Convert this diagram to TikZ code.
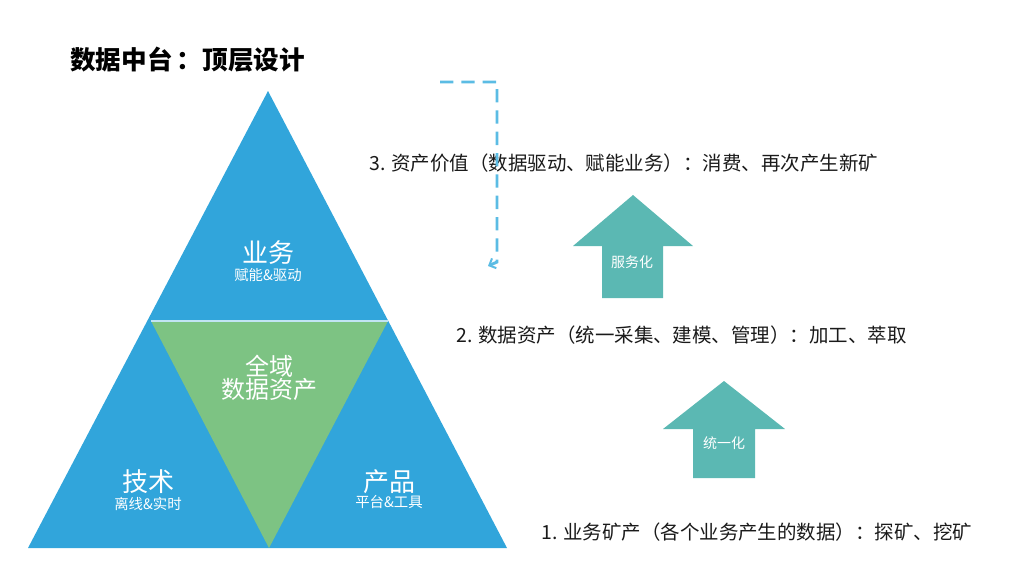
\documentclass[tikz,border=0pt]{standalone}
\usepackage{fontspec}
\setmainfont{Noto Sans CJK SC}
\usetikzlibrary{arrows.meta}
\definecolor{triblue}{HTML}{31A5DB}
\definecolor{trigreen}{HTML}{7DC383}
\definecolor{arrteal}{HTML}{5BB8B3}
\definecolor{dashblue}{HTML}{5BBCE4}
\definecolor{txt}{HTML}{1A1A1A}
\tikzset{
  bigtxt/.style={text=white, inner sep=0pt, font=\fontsize{19.5}{20}\selectfont},
  smalltxt/.style={text=white, inner sep=0pt, font=\fontsize{10.8}{11}\selectfont},
  midtxt/.style={text=white, inner sep=0pt, align=center, font=\fontsize{18}{18}\selectfont},
  steptxt/.style={text=txt, inner sep=0pt, anchor=west, font=\fontsize{14.6}{15}\selectfont},
  arrlabel/.style={text=white, inner sep=0pt, font=\fontsize{10.5}{11}\selectfont},
  uparrow/.style={fill=arrteal, draw=none},
}
\begin{document}
\begin{tikzpicture}[x=0.75pt,y=-0.75pt]
\useasboundingbox (0,0) rectangle (1024,576);
% title
\node[anchor=west, inner sep=0pt, text=black, font=\fontsize{19.2}{20}\selectfont\bfseries] (title) at (70,60) {数据中台\,：顶层设计};
% triangles
\fill[triblue] (268,91) -- (507,548) -- (28,548) -- cycle;
\fill[trigreen] (151,321) -- (388,321) -- (269,548) -- cycle;
\draw[white!70!triblue, line width=0.8pt] (151,321) -- (388,321);
% triangle texts
\node[bigtxt] (yw) at (268,253) {业务};
\node[smalltxt] (ywsub) at (268,275) {赋能\&驱动};
\node[midtxt] (qy) at (269,366) {全域};
\node[midtxt] (sjzc) at (269,389) {数据资产};
\node[bigtxt] (js) at (148,482) {技术};
\node[smalltxt] (jssub) at (148,504) {离线\&实时};
\node[bigtxt] (cp) at (389,482) {产品};
\node[smalltxt] (cpsub) at (389,502) {平台\&工具};
% steps
\node[steptxt] (s3) at (369,163) {3. 资产价值（数据驱动、赋能业务）：消费、再次产生新矿};
\node[steptxt] (s2) at (456,335) {2. 数据资产（统一采集、建模、管理）：加工、萃取};
\node[steptxt] (s1) at (541,532) {1. 业务矿产（各个业务产生的数据）：探矿、挖矿};
% up arrows
\fill[uparrow] (633,195) -- (693,246) -- (663,246) -- (663,298) -- (602,298) -- (602,246) -- (573,246) -- cycle;
\node[arrlabel] (fwh) at (632,262) {服务化};
\fill[uparrow] (724,381) -- (785,429) -- (755,429) -- (755,478) -- (693,478) -- (693,429) -- (663,429) -- cycle;
\node[arrlabel] (tyh) at (724,443) {统一化};
% dashed connector
\coordinate (dstart) at (440,82);
\coordinate (dcorner) at (497,82);
\coordinate (dend) at (488,266);
\draw[dashblue, line width=2.2pt, dash pattern=on 10pt off 6pt, -{Straight Barb[length=4pt,width=8pt,line width=1.5pt]}]
  (dstart) -- (dcorner) -- (497,262) -- (dend);
\end{tikzpicture}
\end{document}
